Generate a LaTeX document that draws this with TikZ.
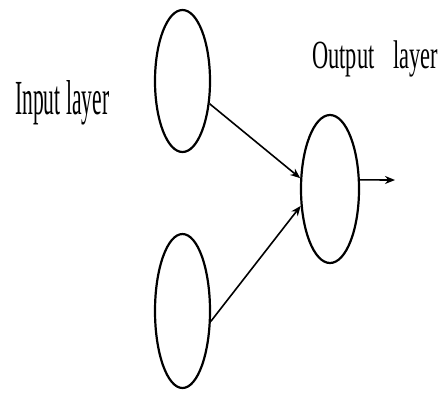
\documentclass[tikz,border=0pt]{standalone}
\usepackage{fontspec}
\setmainfont{Liberation Serif}
\usetikzlibrary{shapes.geometric,arrows.meta}
\tikzset{
  neuron/.style={draw, ellipse, line width=2.2pt, inner sep=0pt},
  conn/.style={line width=1.6pt, -{Stealth[length=10pt,width=8pt]}},
  lbl/.style={inner sep=0pt, anchor=base west}
}
\begin{document}
\begin{tikzpicture}[x=1pt,y=-1pt]
\useasboundingbox (0,0) rectangle (441,392);
\node[neuron, minimum width=55pt, minimum height=142pt] (in1) at (182.5,81) {};
\node[neuron, minimum width=55pt, minimum height=154pt] (in2) at (182.5,311) {};
\node[neuron, minimum width=58pt, minimum height=148pt] (out) at (330,189) {};
\node[lbl, font=\fontsize{49}{49}\selectfont] (inlbl) at (15,114) {\scalebox{0.44}[1]{Input layer}};
\node[lbl, font=\fontsize{40}{40}\selectfont] (outlbl) at (312,68) {\scalebox{0.56}[1]{Output\hspace{34pt}layer}};
\coordinate (outend) at (395,180);
\draw[conn] (in1.-40) -- (out.160);
\draw[conn] (in2.-20) -- (out.-150);
\draw[conn] (out.17) -- (outend);
\end{tikzpicture}
\end{document}
